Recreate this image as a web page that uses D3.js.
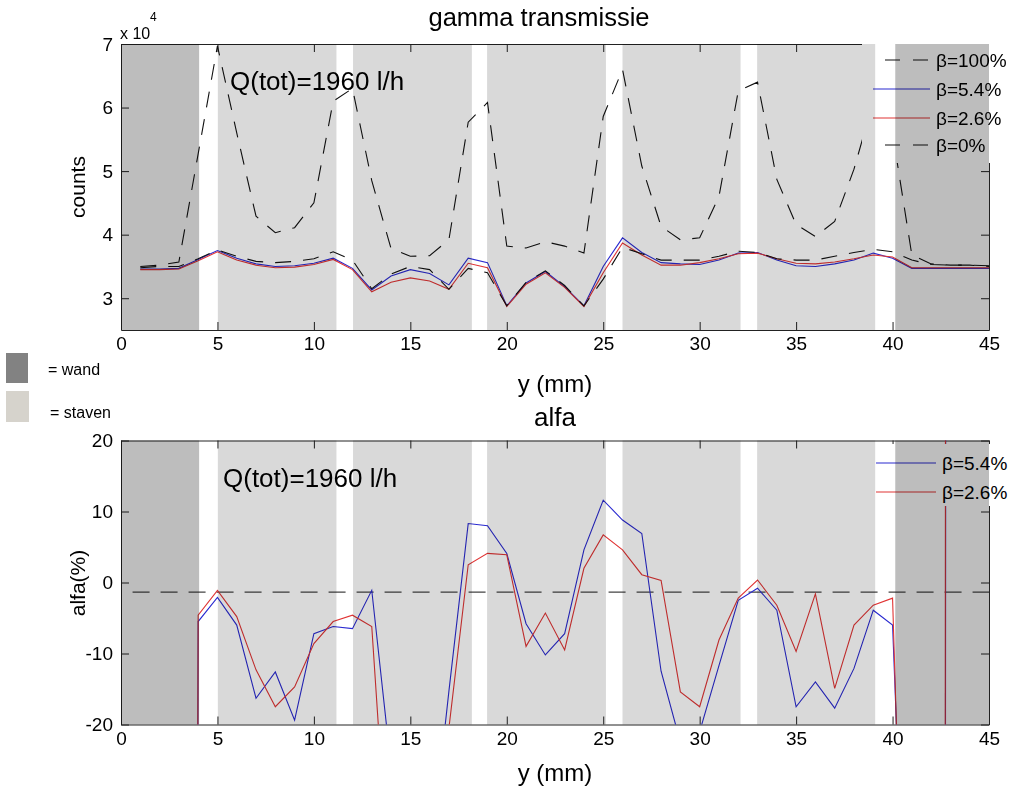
<!DOCTYPE html>
<html>
<head>
<meta charset="utf-8">
<script src="https://cdn.jsdelivr.net/npm/d3@7"></script>
<style>
  body { margin: 0; background: #fff; }
  svg { display: block; }
  .shade { mix-blend-mode: multiply; }
</style>
</head>
<body>
<script>
// positions along the channel (mm)
const yPos = [1,2,3,4,5,6,7,8,9,10,11,12,13,14,15,16,17,18,19,20,21,22,23,24,25,26,27,28,29,30,31,32,33,34,35,36,37,38,39,40,41,42,43,44,45];

// gamma transmission counts (x 10^4)
const beta100 = [3.50,3.52,3.57,5.27,6.97,5.60,4.29,4.03,4.11,4.50,6.10,6.30,4.85,3.78,3.66,3.67,3.92,5.77,6.08,3.82,3.79,3.89,3.82,3.71,5.86,6.60,5.08,4.13,3.92,3.95,4.60,6.26,6.40,4.87,4.16,3.97,4.21,5.03,6.10,5.60,3.68,3.54,3.52,3.52,3.51];
const beta54 = [3.46,3.46,3.47,3.61,3.75,3.63,3.54,3.50,3.51,3.55,3.63,3.47,3.13,3.35,3.45,3.39,3.21,3.63,3.56,2.88,3.24,3.42,3.18,2.88,3.50,3.95,3.72,3.56,3.54,3.53,3.60,3.71,3.72,3.60,3.51,3.50,3.54,3.60,3.71,3.63,3.47,3.47,3.47,3.47,3.47];
const beta26 = [3.45,3.45,3.46,3.59,3.73,3.60,3.52,3.48,3.49,3.53,3.61,3.45,3.10,3.25,3.32,3.27,3.14,3.55,3.48,2.87,3.22,3.40,3.17,2.87,3.40,3.87,3.68,3.52,3.52,3.56,3.62,3.70,3.71,3.62,3.55,3.54,3.57,3.62,3.68,3.65,3.48,3.48,3.48,3.48,3.48];
const beta0 = [3.48,3.50,3.50,3.62,3.76,3.66,3.58,3.56,3.58,3.62,3.73,3.60,3.15,3.38,3.50,3.45,3.14,3.47,3.40,2.88,3.25,3.43,3.20,2.88,3.30,3.80,3.70,3.60,3.60,3.60,3.66,3.74,3.72,3.62,3.60,3.60,3.66,3.72,3.77,3.73,3.60,3.53,3.52,3.52,3.50];

// alfa (%), values far outside the axis are clipped
const alfa54 = [null,null,-1000,-5.5,-2.1,-6.0,-16.3,-12.6,-19.4,-7.2,-6.2,-6.5,-1.1,-26,-60,-40,-15.3,8.3,8.0,4.1,-5.8,-10.2,-7.2,4.6,11.6,8.8,6.9,-12.5,-22.5,-21,-11.7,-2.5,-0.8,-3.9,-17.5,-14.0,-17.7,-12.1,-3.9,-6.0,-76,-3000,1000,1000,1000];
const alfa26 = [null,null,-1000,-4.6,-1.1,-4.8,-12.3,-17.5,-14.7,-8.6,-5.5,-4.6,-6.2,-47,-60,-60,-20.5,2.5,4.1,3.9,-9.0,-4.3,-9.5,2.0,6.7,4.6,1.1,0.3,-15.4,-17.5,-8.1,-2.2,0.35,-3.2,-9.7,-1.6,-14.9,-6.0,-3.2,-2.2,-91,-2800,1000,1000,1000];
const alfaRef = -1.35;
const alfaRefX = [0.6, 45];

// wall and rod zones (mm)
const wandZones = [[0, 4.05], [40.14, 45]];
const stavenZones = [[5.02, 11.17], [12.03, 18.19], [18.98, 25.14], [26.0, 32.12], [32.98, 39.1]];

const xTicks = [0,5,10,15,20,25,30,35,40,45];
const countTicks = [3,4,5,6,7];
const alfaTicks = [-20,-10,0,10,20];

const topLegend = ["\u03b2=100%", "\u03b2=5.4%", "\u03b2=2.6%", "\u03b2=0%"];
const botLegend = ["\u03b2=5.4%", "\u03b2=2.6%"];

const font = "'Liberation Sans', Arial, sans-serif";
const W = 1011, H = 789;
const axisCol = "#222";
const blue = "#2a2ad0", red = "#e03434";
const wandCol = "#bdbdbd", stavenCol = "#d9d9d9";

const svg = d3.select("body").append("svg")
  .attr("width", W).attr("height", H)
  .attr("font-family", font);

svg.append("rect").attr("width", W).attr("height", H).attr("fill", "#fff");

const x = d3.scaleLinear().domain([0, 45]).range([121, 989]);
const yTop = d3.scaleLinear().domain([2.5, 7]).range([330, 44]);
const yBot = d3.scaleLinear().domain([-20, 20]).range([724.5, 440.5]);

function drawAxes(yScale, ticks, id) {
  const [y0, y1] = yScale.range();
  const g = svg.append("g");

  const styleAxis = function(sel) {
    sel.attr("font-family", font).attr("font-size", 19);
    sel.selectAll("path, line").attr("stroke", axisCol);
  };

  g.append("g").attr("transform", "translate(0," + y0 + ")")
    .call(d3.axisBottom(x).tickValues(xTicks).tickSizeInner(-8).tickSizeOuter(0).tickPadding(7))
    .call(styleAxis);
  g.append("g").attr("transform", "translate(0," + y1 + ")")
    .call(d3.axisTop(x).tickValues(xTicks).tickSizeInner(-8).tickSizeOuter(0).tickFormat(""))
    .call(styleAxis);
  g.append("g").attr("transform", "translate(121,0)")
    .call(d3.axisLeft(yScale).tickValues(ticks).tickSizeInner(-8).tickSizeOuter(0).tickPadding(8)
      .tickFormat(d => String(d)))
    .call(styleAxis);
  g.append("g").attr("transform", "translate(989,0)")
    .call(d3.axisRight(yScale).tickValues(ticks).tickSizeInner(-8).tickSizeOuter(0).tickFormat(""))
    .call(styleAxis);

  svg.append("clipPath").attr("id", "clip-" + id)
    .append("rect").attr("x", 121).attr("y", y1).attr("width", 868).attr("height", y0 - y1);
}

function drawSeries(yScale, values, id, color, dash) {
  const line = d3.line()
    .defined(d => d[1] != null)
    .x(d => x(d[0]))
    .y(d => yScale(d[1]));
  svg.append("path")
    .datum(yPos.map((p, i) => [p, values[i]]))
    .attr("clip-path", "url(#clip-" + id + ")")
    .attr("d", line)
    .attr("fill", "none")
    .attr("stroke", color)
    .attr("stroke-width", 1.1)
    .attr("stroke-dasharray", dash);
}

function drawShading(yScale) {
  const [y0, y1] = yScale.range();
  const g = svg.append("g").attr("class", "shade");
  g.selectAll("rect.w").data(wandZones).enter().append("rect")
    .attr("x", d => x(d[0])).attr("width", d => x(d[1]) - x(d[0]))
    .attr("y", y1).attr("height", y0 - y1).attr("fill", wandCol);
  g.selectAll("rect.s").data(stavenZones).enter().append("rect")
    .attr("x", d => x(d[0])).attr("width", d => x(d[1]) - x(d[0]))
    .attr("y", y1).attr("height", y0 - y1).attr("fill", stavenCol);
}

// ---------- top panel: gamma transmissie
drawAxes(yTop, countTicks, "top");
drawSeries(yTop, beta100, "top", "#111", "16,12");
drawSeries(yTop, beta54, "top", blue, null);
drawSeries(yTop, beta26, "top", red, null);
drawSeries(yTop, beta0, "top", "#111", "16,12");

// legend (white box hides what is behind it)
svg.append("rect").attr("x", 862).attr("y", 36).attr("width", 149).attr("height", 127).attr("fill", "#fff");
const topRows = [60, 89, 118, 145];
const topStyles = [["#111", "15,13", 885], [blue, null, 873], [red, null, 873], ["#111", "15,13", 885]];
topLegend.forEach((t, i) => {
  svg.append("line").attr("x1", topStyles[i][2]).attr("x2", 930)
    .attr("y1", topRows[i]).attr("y2", topRows[i])
    .attr("stroke", topStyles[i][0]).attr("stroke-width", 1.2)
    .attr("stroke-dasharray", topStyles[i][1]);
  svg.append("text").attr("x", 936).attr("y", topRows[i] + 7)
    .attr("font-size", 19).text(t);
});

drawShading(yTop);

svg.append("text").attr("x", 539).attr("y", 26).attr("text-anchor", "middle")
  .attr("font-size", 25.5).text("gamma transmissie");
svg.append("text").attr("x", 230).attr("y", 90).attr("font-size", 26).text("Q(tot)=1960 l/h");
svg.append("text").attr("x", 120).attr("y", 39).attr("font-size", 16).text("x 10");
svg.append("text").attr("x", 150).attr("y", 21).attr("font-size", 12).text("4");
svg.append("text").attr("transform", "translate(85,187) rotate(-90)")
  .attr("text-anchor", "middle").attr("font-size", 21).text("counts");
svg.append("text").attr("x", 555).attr("y", 392).attr("text-anchor", "middle")
  .attr("font-size", 24).text("y (mm)");

// ---------- bottom panel: alfa
drawAxes(yBot, alfaTicks, "bot");
svg.append("line")
  .attr("x1", x(alfaRefX[0])).attr("x2", x(alfaRefX[1]))
  .attr("y1", yBot(alfaRef)).attr("y2", yBot(alfaRef))
  .attr("stroke", "#444").attr("stroke-width", 1.3).attr("stroke-dasharray", "17,11");
drawSeries(yBot, alfa54, "bot", blue, null);
drawSeries(yBot, alfa26, "bot", red, null);

svg.append("rect").attr("x", 870).attr("y", 444).attr("width", 141).attr("height", 62).attr("fill", "#fff");
const botRows = [463, 492];
const botColors = [blue, red];
botLegend.forEach((t, i) => {
  svg.append("line").attr("x1", 876).attr("x2", 936)
    .attr("y1", botRows[i]).attr("y2", botRows[i])
    .attr("stroke", botColors[i]).attr("stroke-width", 1.2);
  svg.append("text").attr("x", 942).attr("y", botRows[i] + 7)
    .attr("font-size", 19).text(t);
});

drawShading(yBot);

svg.append("text").attr("x", 555).attr("y", 426).attr("text-anchor", "middle")
  .attr("font-size", 26).text("alfa");
svg.append("text").attr("x", 223).attr("y", 487).attr("font-size", 26).text("Q(tot)=1960 l/h");
svg.append("text").attr("transform", "translate(85,583) rotate(-90)")
  .attr("text-anchor", "middle").attr("font-size", 21).text("alfa(%)");
svg.append("text").attr("x", 555).attr("y", 781).attr("text-anchor", "middle")
  .attr("font-size", 24).text("y (mm)");

// ---------- zone key on the left
svg.append("rect").attr("x", 6).attr("y", 353).attr("width", 22).attr("height", 30).attr("fill", "#828282");
svg.append("rect").attr("x", 6).attr("y", 391).attr("width", 23).attr("height", 31).attr("fill", "#d6d3cc");
svg.append("text").attr("x", 48).attr("y", 375).attr("font-size", 16).text("= wand");
svg.append("text").attr("x", 50).attr("y", 418).attr("font-size", 16).text("= staven");
</script>
</body>
</html>
